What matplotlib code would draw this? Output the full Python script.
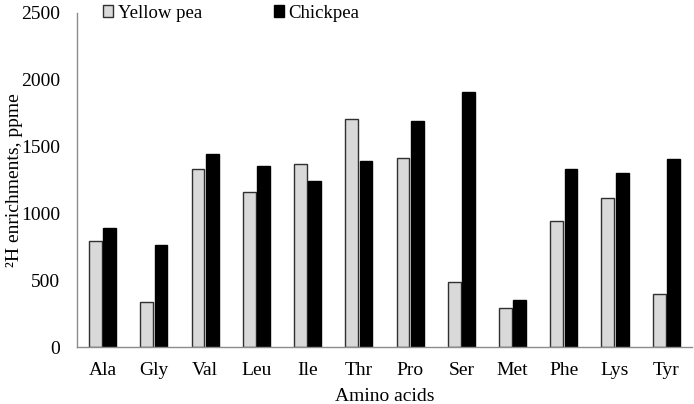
import numpy as np
import matplotlib
matplotlib.use("Agg")
import matplotlib.pyplot as plt

amino_acids = ["Ala", "Gly", "Val", "Leu", "Ile", "Thr", "Pro", "Ser", "Met", "Phe", "Lys", "Tyr"]
yellow_pea = [795, 340, 1335, 1160, 1370, 1710, 1415, 490, 295, 945, 1115, 395]
chickpea = [893, 760, 1445, 1355, 1240, 1395, 1695, 1910, 355, 1330, 1305, 1410]
y_ticks = [0, 500, 1000, 1500, 2000, 2500]

plt.rcParams['font.family'] = ['Liberation Serif', 'DejaVu Serif']

fig = plt.figure(figsize=(6.94, 4.04), dpi=100)
ax = fig.add_axes([0.111, 0.141, 0.886, 0.827])

x = np.arange(len(amino_acids))
w = 0.25
ax.bar(x - 0.14, yellow_pea, w, color="#d9d9d9", edgecolor="#303030", linewidth=1.0, label="Yellow pea")
ax.bar(x + 0.14, chickpea, w, color="black", edgecolor="black", linewidth=1.0, label="Chickpea")

ax.set_xlim(-0.5, len(amino_acids) - 0.5)
ax.set_ylim(0, 2500)
ax.set_yticks(y_ticks)
ax.set_xticks(x)
ax.set_xticklabels(amino_acids)
ax.tick_params(axis='both', length=0, labelsize=14)
ax.tick_params(axis='x', pad=11)
ax.tick_params(axis='y', pad=12)

for s in ["top", "right"]:
    ax.spines[s].set_visible(False)
for s in ["left", "bottom"]:
    ax.spines[s].set_color("#8c8c8c")
    ax.spines[s].set_linewidth(1.0)

ax.set_xlabel("Amino acids", fontsize=14, labelpad=6)
ax.set_ylabel("²H enrichments, ppme", fontsize=14)
ax.yaxis.set_label_coords(-0.088, 0.5)

ax.legend(loc="upper left", bbox_to_anchor=(0.015, 1.075), ncol=2, frameon=False,
          fontsize=13.5, handlelength=0.55, handleheight=0.55, handletextpad=0.25,
          columnspacing=3.8)

plt.savefig("out.png", dpi=100)
